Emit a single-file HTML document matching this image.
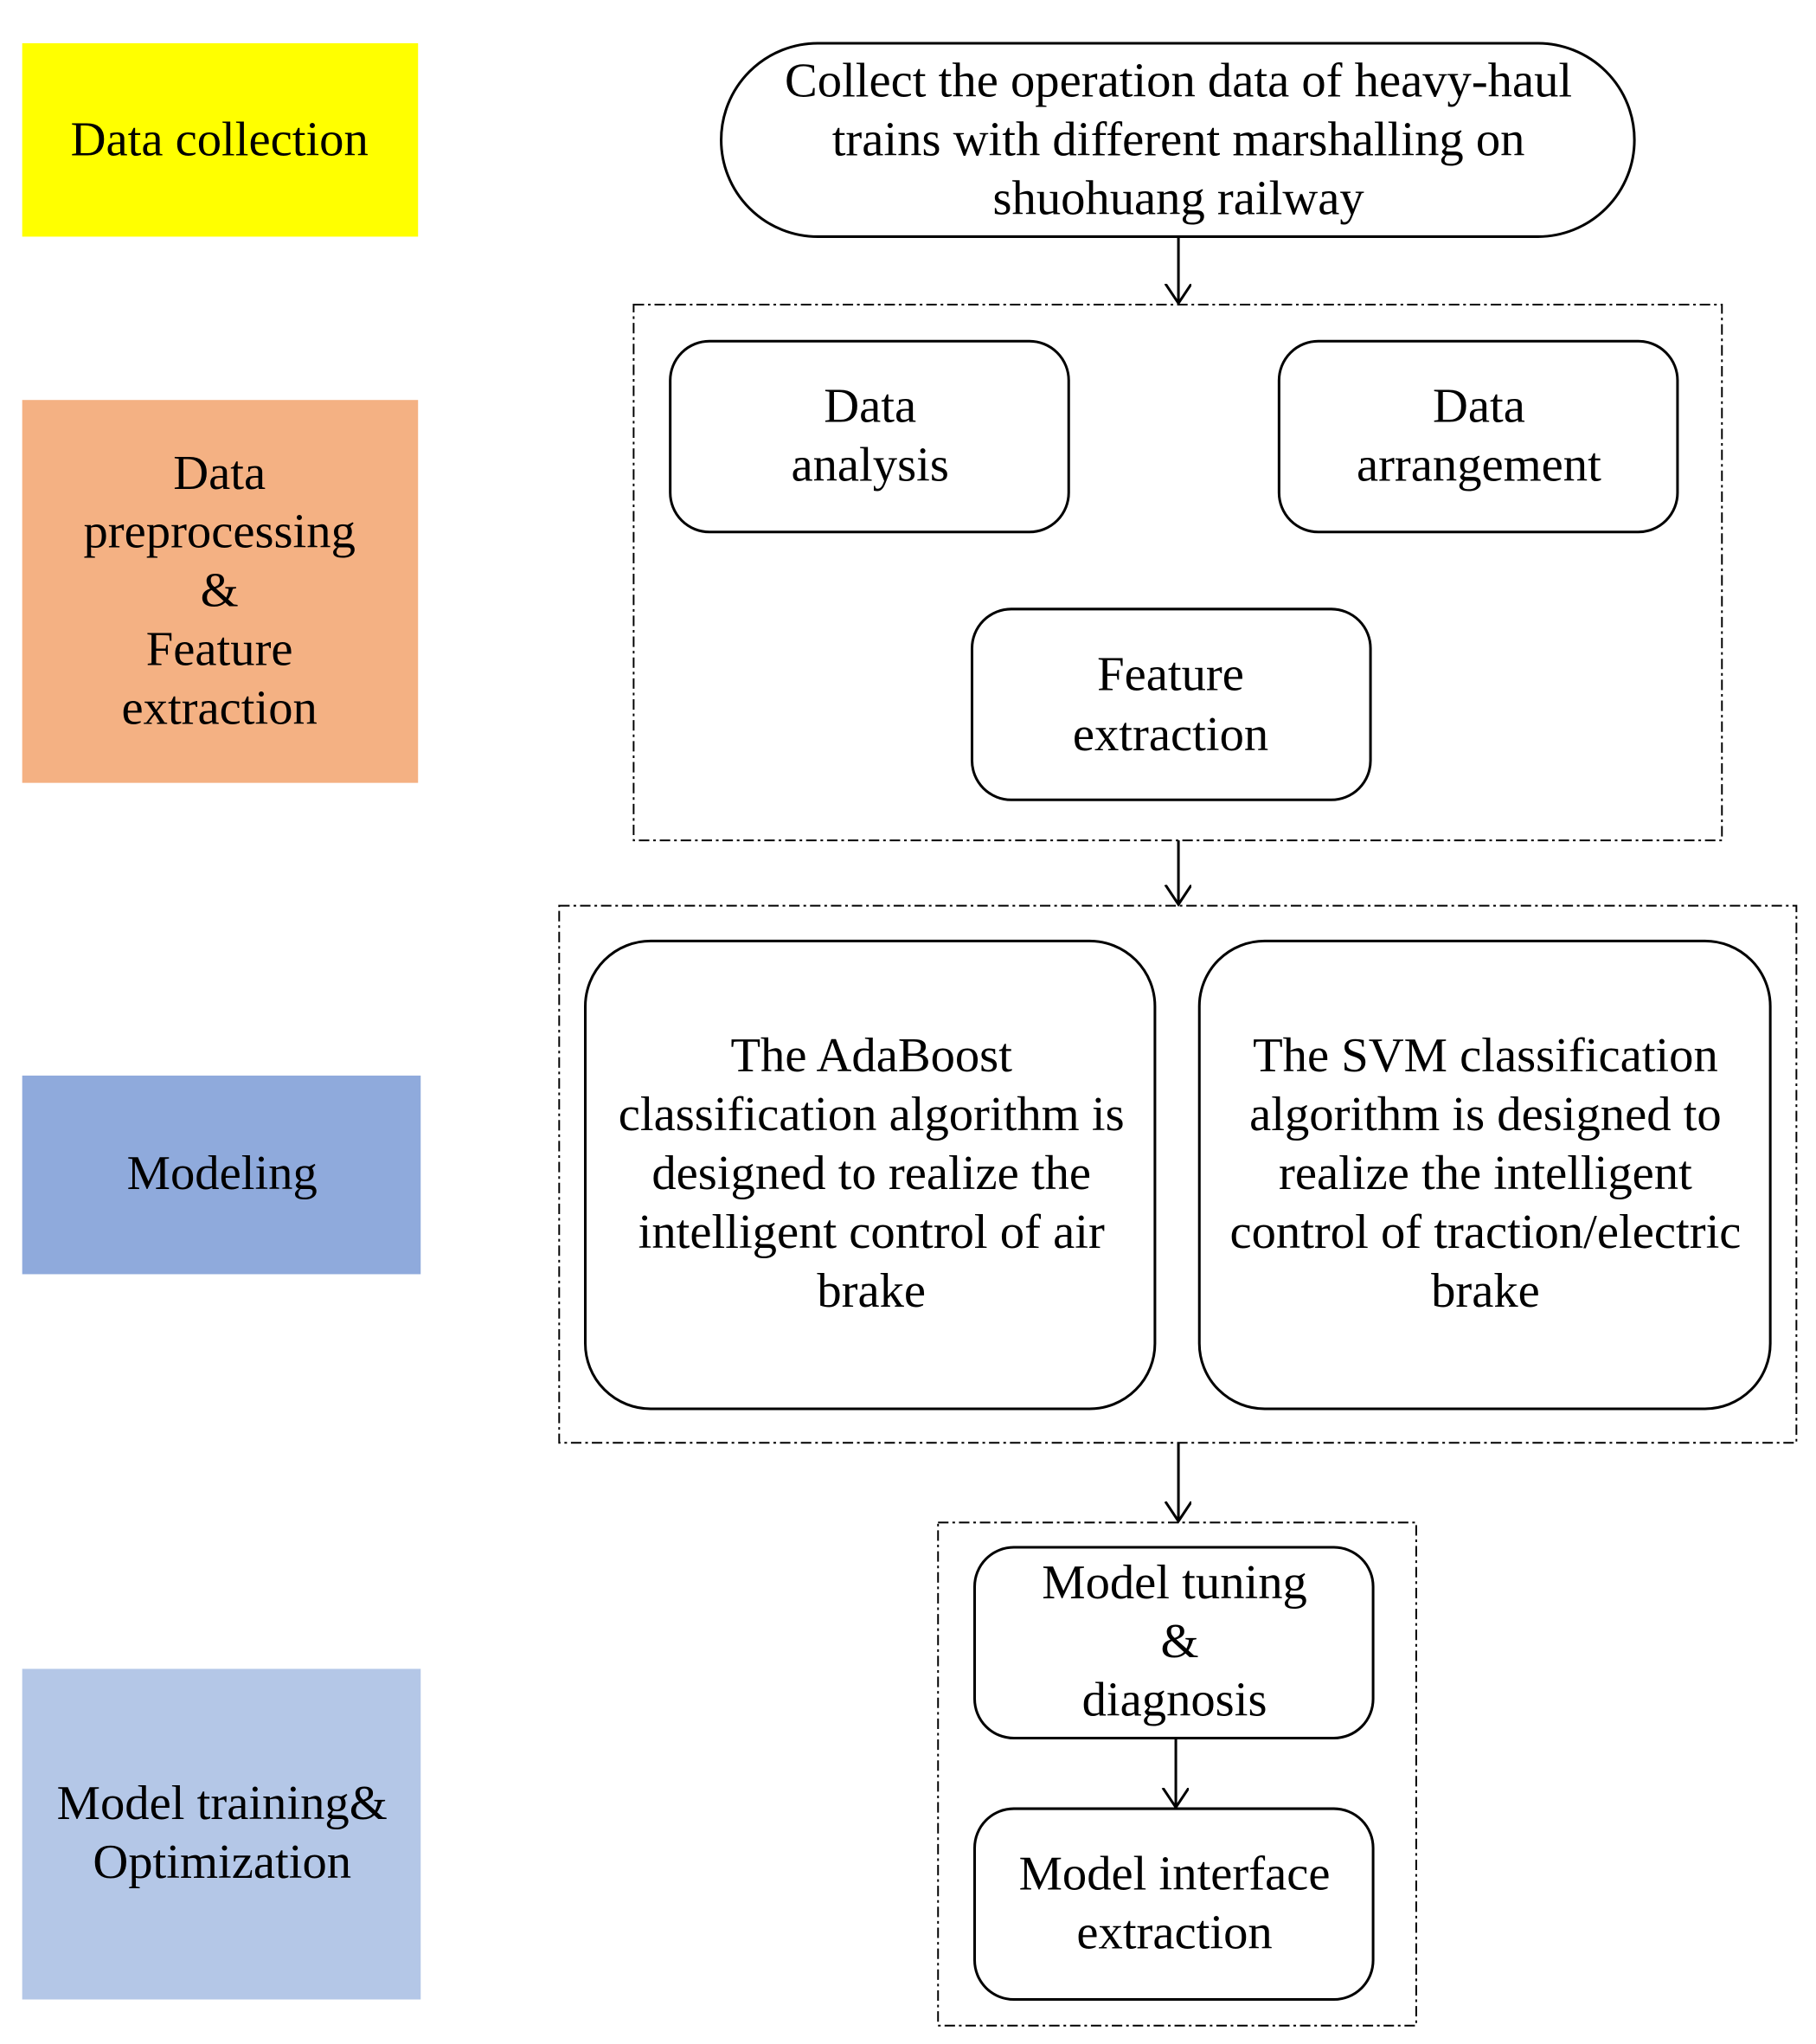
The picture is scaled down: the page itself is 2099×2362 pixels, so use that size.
<!DOCTYPE html>
<html><head><meta charset="utf-8"><style>html,body{margin:0;padding:0;background:#fff}svg{display:block}</style></head>
<body>
<svg width="2099" height="2362" viewBox="0 0 1390 1564" xmlns="http://www.w3.org/2000/svg" font-family="Liberation Serif, serif" font-size="37.5" text-anchor="middle" dominant-baseline="central">
<defs><marker id="a" markerWidth="20" markerHeight="24" refX="15" refY="10" orient="auto" markerUnits="userSpaceOnUse"><path d="M0,0 L15,10 L0,20" fill="none" stroke="#000" stroke-width="2"/></marker></defs>
<rect x="17" y="33" width="303" height="148" fill="#ffff00"/>
<text x="168" y="107">Data collection</text>
<rect x="17" y="306" width="303" height="293" fill="#f4b183"/>
<text x="168" y="362">Data</text><text x="168" y="407">preprocessing</text><text x="168" y="452">&amp;</text><text x="168" y="497">Feature</text><text x="168" y="542">extraction</text>
<rect x="17" y="823" width="305" height="152" fill="#8faadc"/>
<text x="170" y="898">Modeling</text>
<rect x="17" y="1277" width="305" height="253" fill="#b4c7e7"/>
<text x="170" y="1380">Model training&amp;</text><text x="170" y="1425">Optimization</text>
<g fill="none" stroke="#000" stroke-width="2">
<rect x="552" y="33" width="699" height="148" rx="74"/>
<rect x="513" y="261" width="305" height="146" rx="30"/>
<rect x="979" y="261" width="305" height="146" rx="30"/>
<rect x="744" y="466" width="305" height="146" rx="30"/>
<rect x="448" y="720" width="436" height="358" rx="50"/>
<rect x="918" y="720" width="437" height="358" rx="50"/>
<rect x="746" y="1184" width="305" height="146" rx="30"/>
<rect x="746" y="1384" width="305" height="146" rx="30"/>
<g stroke-width="1.3" stroke-dasharray="8 3 2 3">
<rect x="485" y="233" width="833" height="410"/>
<rect x="428" y="693" width="947" height="411"/>
<rect x="718" y="1165" width="366" height="385"/>
</g>
<line x1="902" y1="181" x2="902" y2="232" marker-end="url(#a)"/>
<line x1="902" y1="643" x2="902" y2="692" marker-end="url(#a)"/>
<line x1="902" y1="1104" x2="902" y2="1164" marker-end="url(#a)"/>
<line x1="900" y1="1330" x2="900" y2="1383" marker-end="url(#a)"/>
</g>
<text x="902" y="62">Collect the operation data of heavy-haul</text>
<text x="902" y="107">trains with different marshalling on</text>
<text x="902" y="152">shuohuang railway</text>
<text x="666" y="311">Data</text><text x="666" y="356">analysis</text>
<text x="1132" y="311">Data</text><text x="1132" y="356">arrangement</text>
<text x="896" y="516">Feature</text><text x="896" y="562">extraction</text>
<text x="667" y="808">The AdaBoost</text><text x="667" y="853">classification algorithm is</text><text x="667" y="898">designed to realize the</text><text x="667" y="943">intelligent control of air</text><text x="667" y="988">brake</text>
<text x="1137" y="808">The SVM classification</text><text x="1137" y="853">algorithm is designed to</text><text x="1137" y="898">realize the intelligent</text><text x="1137" y="943">control of traction/electric</text><text x="1137" y="988">brake</text>
<text x="899" y="1211">Model tuning</text><text x="903" y="1256">&amp;</text><text x="899" y="1301">diagnosis</text>
<text x="899" y="1434">Model interface</text><text x="899" y="1479">extraction</text>
</svg>
</body></html>
